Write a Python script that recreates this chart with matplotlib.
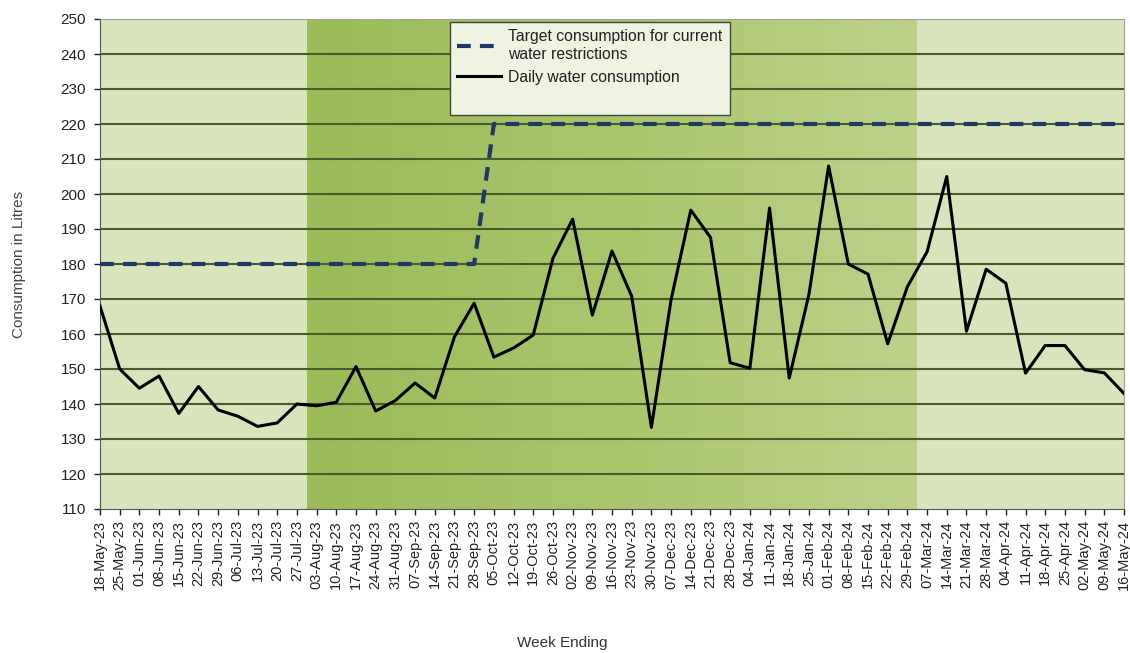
import matplotlib
matplotlib.use("Agg")
import matplotlib.pyplot as plt
import numpy as np
from matplotlib.colors import LinearSegmentedColormap
from matplotlib.lines import Line2D

plt.rcParams['font.family'] = ['Liberation Sans', 'DejaVu Sans']

# Week ending labels
weeks = ['18-May-23', '25-May-23', '01-Jun-23', '08-Jun-23', '15-Jun-23', '22-Jun-23',
         '29-Jun-23', '06-Jul-23', '13-Jul-23', '20-Jul-23', '27-Jul-23', '03-Aug-23',
         '10-Aug-23', '17-Aug-23', '24-Aug-23', '31-Aug-23', '07-Sep-23', '14-Sep-23',
         '21-Sep-23', '28-Sep-23', '05-Oct-23', '12-Oct-23', '19-Oct-23', '26-Oct-23',
         '02-Nov-23', '09-Nov-23', '16-Nov-23', '23-Nov-23', '30-Nov-23', '07-Dec-23',
         '14-Dec-23', '21-Dec-23', '28-Dec-23', '04-Jan-24', '11-Jan-24', '18-Jan-24',
         '25-Jan-24', '01-Feb-24', '08-Feb-24', '15-Feb-24', '22-Feb-24', '29-Feb-24',
         '07-Mar-24', '14-Mar-24', '21-Mar-24', '28-Mar-24', '04-Apr-24', '11-Apr-24',
         '18-Apr-24', '25-Apr-24', '02-May-24', '09-May-24', '16-May-24']

# Daily water consumption (litres)
consumption = [168, 150, 144.5, 148, 137.3, 145, 138.3, 136.5, 133.6, 134.6, 140,
               139.5, 140.5, 150.7, 138, 141, 146, 141.7, 159.2, 168.8, 153.4,
               156, 159.7, 181.6, 192.8, 165.4, 183.7, 170.8, 133.3, 169.8, 195.4,
               187.6, 151.8, 150.2, 196, 147.4, 171.3, 208, 180, 177.1, 157.2,
               173.5, 183.5, 205, 160.8, 178.5, 174.5, 148.8, 156.7, 156.7, 149.8,
               148.9, 143]

# Target consumption for current water restrictions
target = [180] * 20 + [220] * 33

# restriction period shading (week index boundaries)
period_start = 10.5
period_end = 41.45

fig = plt.figure(figsize=(11.3, 6.53), dpi=100)
ax = fig.add_axes([100 / 1130, 1 - 509 / 653, 1024 / 1130, 490 / 653])

x = np.arange(len(weeks))
ymin, ymax = 110, 250

# background bands
ax.axvspan(0, period_start, color='#d8e4bc', zorder=0, lw=0)
ax.axvspan(period_end, len(weeks) - 1, color='#d8e4bc', zorder=0, lw=0)
cmap = LinearSegmentedColormap.from_list('band', ['#9bbb59', '#a9c66c', '#bdd18a'])
grad = np.linspace(0, 1, 256).reshape(1, -1)
ax.imshow(grad, cmap=cmap, aspect='auto', extent=[period_start, period_end, ymin, ymax],
          zorder=0)

# grid lines
for v in range(120, 250, 10):
    ax.axhline(v, color='#4a5a2a', lw=1.5, zorder=1)

l1, = ax.plot(x, target, color='#1f3864', lw=3, dashes=(3.3, 2.2), zorder=3)
l2, = ax.plot(x, consumption, color='black', lw=2.2, zorder=4)

ax.set_xlim(0, len(weeks) - 1)
ax.set_ylim(ymin, ymax)
ax.set_yticks(range(110, 251, 10))
ax.set_xticks(x)
ax.set_xticklabels(weeks, rotation=90, fontsize=10.5, color='#222222')
ax.tick_params(axis='y', labelsize=11, colors='#222222', length=4, width=1, pad=6)
ax.tick_params(axis='x', length=4, width=1, pad=4, colors='#222222')

for side in ['top', 'right']:
    ax.spines[side].set_color('#a0a0a0')
ax.spines['left'].set_color('#555555')
ax.spines['bottom'].set_color('#555555')

ax.set_ylabel('Consumption in Litres', fontsize=11, color='#444444')
ax.yaxis.set_label_coords(-(100 - 26) / 1024, 0.5)
fig.text(562 / 1130, 1 - 643 / 653, 'Week Ending', ha='center', va='center',
         fontsize=11, color='#333333')

blank = Line2D([], [], color='none')
leg = ax.legend([l1, l2, blank],
                ['Target consumption for current\nwater restrictions',
                 'Daily water consumption', ' '],
                loc='upper left', bbox_to_anchor=(0.342, 0.994), fontsize=11.3,
                frameon=True, fancybox=False, handlelength=2.8, handletextpad=0.45,
                borderpad=0.45, labelspacing=0.5, borderaxespad=0)
for t in leg.get_texts():
    t.set_linespacing(1.25)
    t.set_color('#222222')
leg.get_frame().set_facecolor('#eef3e2')
leg.get_frame().set_alpha(1)
leg.get_frame().set_edgecolor('#444444')
leg.get_frame().set_linewidth(1)

plt.savefig('out.png', dpi=100)
